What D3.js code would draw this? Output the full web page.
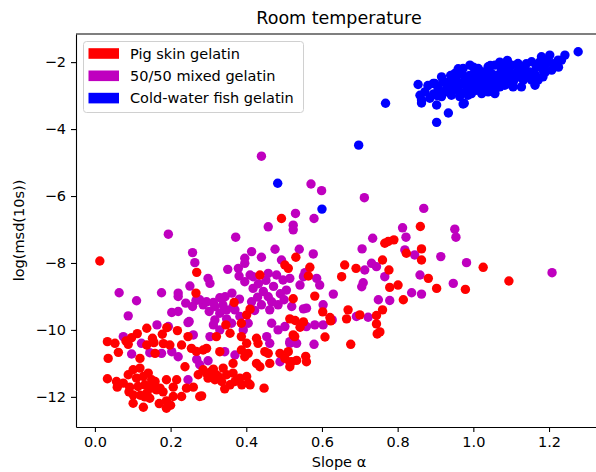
<!DOCTYPE html>
<html>
<head>
<meta charset="utf-8">
<script src="https://cdn.jsdelivr.net/npm/d3@7"></script>
<style>
  html, body { margin: 0; padding: 0; background: #fff; }
  svg { display: block; font-family: "DejaVu Sans", sans-serif; }
</style>
</head>
<body>
<svg id="chart" width="596" height="472"></svg>
<script>
// Slope α vs log(msd(10s)) for three gelatin types at room temperature
const pigSkin = [
  [0.013,-7.94],[0.269,-8.28],[0.267,-8.90],[0.493,-6.67],[0.531,-7.83],[0.502,-8.06],[0.511,-8.16],
  [0.436,-8.36],[0.368,-9.18],[0.524,-9.07],[0.401,-9.55],[0.410,-9.38],[0.860,-6.91],
  [0.766,-7.41],[0.775,-7.36],[0.790,-7.31],[0.863,-7.58],[0.823,-7.71],[0.863,-7.91],
  [0.568,-8.13],[0.760,-7.91],[0.660,-8.06],[0.690,-8.16],[0.652,-8.41],[0.777,-8.21],
  [0.881,-8.46],[0.903,-8.76],[0.979,-8.79],[1.026,-8.13],[1.094,-8.54],[0.779,-8.73],
  [0.801,-8.66],[0.815,-9.10],[0.581,-8.99],[0.564,-8.39],[0.602,-9.46],[0.621,-9.63],
  [0.623,-9.73],[0.669,-9.40],[0.665,-9.67],[0.700,-9.55],[0.760,-9.40],[0.744,-9.57],
  [0.744,-9.82],[0.746,-10.12],[0.753,-10.06],[0.676,-10.43],[0.608,-10.21],[0.557,-10.79],
  [0.533,-10.91],[0.515,-10.96],[0.524,-10.15],[0.551,-9.76],[0.529,-9.72],[0.515,-9.67],
  [0.542,-9.92],[0.346,-9.85],[0.387,-9.80],[0.357,-10.10],[0.321,-10.20],[0.387,-10.20],
  [0.401,-10.40],[0.427,-10.25],[0.431,-10.40],[0.528,-10.20],[0.286,-10.60],[0.295,-10.55],
  [0.330,-10.65],[0.387,-10.60],[0.405,-10.70],[0.396,-10.80],[0.449,-10.65],[0.458,-10.70],
  [0.489,-10.70],[0.511,-10.65],[0.502,-10.85],[0.462,-11.00],[0.436,-11.10],[0.427,-11.00],
  [0.520,-10.95],[0.515,-11.10],[0.559,-10.95],[0.365,-11.00],[0.339,-11.14],[0.313,-11.17],
  [0.286,-11.19],[0.295,-11.29],[0.321,-11.34],[0.348,-11.34],[0.365,-11.29],[0.383,-11.44],
  [0.401,-11.39],[0.405,-11.59],[0.388,-11.64],[0.370,-11.54],[0.357,-11.64],[0.335,-11.54],
  [0.317,-11.49],[0.299,-11.44],[0.343,-11.76],[0.447,-11.74],[0.410,-11.64],[0.282,-11.97],
  [0.033,-10.35],[0.053,-10.40],[0.062,-10.67],[0.035,-10.85],[0.033,-11.46],[0.059,-11.71],
  [0.082,-10.33],[0.097,-10.23],[0.112,-10.11],[0.088,-10.43],[0.119,-10.85],[0.137,-9.95],
  [0.137,-10.45],[0.159,-10.70],[0.178,-10.13],[0.190,-9.93],[0.181,-10.41],[0.152,-10.25],
  [0.156,-10.38],[0.198,-10.45],[0.218,-10.02],[0.229,-10.45],[0.246,-10.20],[0.255,-10.55],
  [0.268,-10.64],[0.238,-11.10],[0.101,-12.19],[0.128,-12.31],[0.189,-12.34],[0.273,-11.34],
  [0.308,-11.24],[0.326,-11.39],[0.189,-12.12],[0.088,-11.34],[0.101,-11.19],[0.110,-11.44],
  [0.119,-11.14],[0.128,-11.39],[0.141,-11.29],[0.150,-11.49],[0.132,-11.64],[0.114,-11.69],
  [0.092,-11.71],[0.101,-11.94],[0.137,-11.89],[0.150,-11.74],[0.159,-11.54],[0.163,-11.79],
  [0.145,-12.04],[0.172,-11.74],[0.189,-11.49],[0.207,-11.99],[0.207,-11.71],[0.216,-11.49],
  [0.229,-11.99],[0.242,-11.74],[0.260,-11.71],[0.277,-11.99],[0.075,-11.59],[0.057,-11.54],
  [0.180,-11.85],[0.154,-11.62],[0.132,-12.00],[0.090,-11.85],[0.120,-11.95],[0.170,-12.20],
  [0.200,-12.25]
];

const mixed = [
  [0.440,-4.81],[0.530,-6.52],[0.458,-6.92],[0.524,-6.87],[0.524,-7.01],[0.194,-7.14],
  [0.372,-7.23],[0.258,-7.69],[0.264,-7.99],[0.476,-7.59],[0.440,-7.83],[0.396,-7.86],
  [0.414,-7.66],[0.493,-7.91],[0.351,-8.19],[0.379,-8.16],[0.381,-8.39],[0.418,-8.41],
  [0.396,-8.56],[0.299,-8.46],[0.304,-8.61],[0.251,-8.69],[0.064,-8.89],[0.110,-9.13],
  [0.176,-8.89],[0.220,-8.90],[0.220,-9.00],[0.088,-9.58],[0.203,-9.48],[0.220,-9.45],
  [0.286,-9.25],[0.317,-9.30],[0.348,-9.40],[0.365,-9.30],[0.330,-9.50],[0.267,-9.12],
  [0.249,-9.75],[0.164,-9.85],[0.194,-9.90],[0.246,-9.78],[0.075,-10.20],[0.123,-10.40],
  [0.145,-10.68],[0.260,-10.15],[0.097,-10.72],[0.176,-10.70],[0.203,-10.65],[0.220,-10.80],
  [0.269,-10.88],[0.277,-11.04],[0.246,-11.49],[0.299,-10.92],[0.396,-8.01],[0.410,-8.36],
  [0.458,-8.31],[0.480,-8.36],[0.497,-8.51],[0.515,-8.46],[0.418,-8.76],[0.542,-8.66],
  [0.506,-8.81],[0.445,-8.85],[0.458,-9.01],[0.467,-9.16],[0.440,-9.25],[0.462,-9.40],
  [0.484,-9.25],[0.330,-9.04],[0.344,-9.01],[0.313,-9.18],[0.295,-9.16],[0.277,-9.10],
  [0.370,-9.40],[0.383,-9.60],[0.414,-9.16],[0.317,-9.70],[0.348,-9.67],[0.551,-9.37],
  [0.313,-9.85],[0.330,-10.00],[0.361,-9.80],[0.392,-10.00],[0.405,-9.80],[0.467,-9.80],
  [0.484,-10.00],[0.502,-9.90],[0.559,-9.90],[0.304,-10.20],[0.454,-10.20],[0.462,-10.40],
  [0.515,-10.40],[0.533,-10.40],[0.343,-10.65],[0.370,-10.75],[0.489,-10.95],[0.571,-5.64],
  [0.599,-5.84],[0.712,-6.05],[0.869,-6.37],[0.579,-6.67],[0.813,-6.95],[0.951,-6.99],
  [0.954,-7.23],[0.822,-7.23],[0.734,-7.26],[0.706,-7.58],[0.540,-7.59],[0.819,-7.61],
  [0.845,-7.76],[0.914,-7.81],[0.982,-7.99],[1.208,-8.29],[0.577,-7.73],[0.551,-8.41],
  [0.586,-8.46],[0.594,-8.66],[0.731,-8.01],[0.744,-8.11],[0.713,-8.21],[0.859,-8.36],
  [0.705,-8.71],[0.709,-8.59],[0.837,-8.89],[0.863,-8.93],[0.947,-8.61],[0.766,-8.41],
  [0.630,-8.93],[0.749,-9.10],[0.779,-9.12],[0.559,-9.35],[0.603,-9.25],[0.555,-8.29],
  [0.627,-9.70],[0.691,-9.60],[0.722,-9.62],[0.581,-9.85],[0.603,-9.85],[0.579,-10.43],
  [0.515,-10.35],[0.432,-8.62],[0.452,-8.52],[0.472,-8.70],[0.490,-8.92],[0.500,-9.10],
  [0.520,-9.30],[0.430,-9.02],[0.422,-9.42],[0.362,-8.90],[0.382,-9.08],[0.258,-9.30],
  [0.240,-9.20],[0.302,-9.45],[0.338,-9.25]
];

const fishGelatin = [
  [0.483,-5.62],[0.600,-6.39],[0.697,-4.48],[0.768,-3.23],[0.903,-3.80],[0.934,-3.52],
  [0.973,-3.25],[0.854,-2.67],[0.859,-2.99],[0.863,-3.22],[0.898,-2.64],[0.925,-2.89],
  [0.903,-3.28],[1.163,-2.69],[1.277,-1.69],[1.242,-1.79],[1.233,-1.94],[1.202,-1.79],
  [1.180,-1.84],[1.207,-2.24],[1.184,-2.44],[0.894,-2.64],[0.872,-2.89],[0.885,-3.08],
  [0.916,-3.03],[0.929,-2.84],[0.916,-2.44],[0.942,-2.54],[0.951,-2.34],[0.973,-2.19],
  [0.960,-2.74],[0.982,-2.84],[0.995,-2.94],[1.008,-2.84],[0.991,-2.59],[1.004,-2.34],
  [1.013,-2.19],[1.030,-2.44],[1.044,-2.64],[1.026,-2.74],[1.057,-2.84],[1.070,-2.74],
  [1.057,-2.09],[1.074,-2.24],[1.083,-2.44],[1.092,-2.64],[1.101,-2.09],[1.118,-2.04],
  [1.123,-2.34],[1.110,-2.49],[1.132,-2.54],[1.149,-2.29],[1.154,-1.99],[1.167,-2.14],
  [1.189,-2.09],[1.048,-2.34],[1.022,-2.59],[0.978,-2.49],[0.964,-3.03],[0.942,-2.99],
  [0.907,-2.79],[0.863,-3.13],[0.976,-3.23],[1.057,-2.94],[1.127,-2.74],[1.224,-1.94],
  [1.039,-2.14],[1.022,-2.29],[0.991,-2.09],[0.999,-2.69],[0.969,-2.64],[0.951,-2.59],
  [0.938,-2.69],[0.920,-2.59],[1.066,-2.54],[1.052,-2.49],[1.096,-2.29],[1.105,-2.74],
  [1.136,-2.19],[1.154,-2.54],[1.171,-2.54],[1.184,-2.24],[1.035,-2.79],[0.986,-2.99],
  [1.022,-2.94],[1.039,-2.89],[1.083,-2.69],
  [0.930,-2.75],[0.945,-2.85],[0.955,-2.45],[0.965,-2.90],[0.970,-2.35],[0.985,-2.70],
  [0.990,-2.40],[1.000,-2.80],[1.005,-2.55],[1.015,-2.65],[1.020,-2.45],[1.030,-2.30],
  [1.035,-2.60],[1.045,-2.50],[1.050,-2.75],[1.060,-2.40],[1.065,-2.65],[1.075,-2.55],
  [1.080,-2.35],[1.085,-2.15],[1.090,-2.50],[1.100,-2.40],[1.105,-2.60],[1.115,-2.30],
  [1.120,-2.15],[1.125,-2.45],[1.135,-2.35],[1.140,-2.05],[1.145,-2.45],[1.160,-2.30],
  [1.165,-2.40],[1.175,-2.00],[1.190,-2.30],[1.195,-1.95],[1.210,-2.05],[1.225,-2.15],
  [0.905,-3.00],[0.895,-2.95],[0.880,-2.70],[0.925,-2.60],[0.940,-2.40],[0.960,-2.20],
  [1.000,-2.15],[1.045,-2.10],[1.070,-2.00],[1.090,-1.95]
];

const xTicks = [0.0, 0.2, 0.4, 0.6, 0.8, 1.0, 1.2];
const yTicks = [-12, -10, -8, -6, -4, -2];
const seriesNames = ["Pig skin gelatin", "50/50 mixed gelatin", "Cold-water fish gelatin"];
const seriesColors = ["#ff0000", "#bf00bf", "#0000ff"];

const svg = d3.select("#chart");
const plotLeft = 76, plotRight = 602, plotTop = 34, plotBottom = 427;
const fs = 14.5;

const x = d3.scaleLinear().domain([-0.05, 1.34]).range([plotLeft, plotRight]);
const y = d3.scaleLinear().domain([-12.9, -1.16]).range([plotBottom, plotTop]);

// markers: mixed first, pig skin over it, fish on top
const layers = [
  { data: mixed, color: seriesColors[1] },
  { data: pigSkin, color: seriesColors[0] },
  { data: fishGelatin, color: seriesColors[2] }
];
const plot = svg.append("g");
layers.forEach(l => {
  plot.append("g").selectAll("circle").data(l.data).join("circle")
    .attr("cx", d => x(d[0])).attr("cy", d => y(d[1]))
    .attr("r", 4.7).attr("fill", l.color);
});

// axes
const xAxis = d3.axisBottom(x).tickValues(xTicks).tickFormat(d3.format(".1f"))
  .tickSize(5).tickPadding(5).tickSizeOuter(0);
const yAxis = d3.axisLeft(y).tickValues(yTicks).tickFormat(d3.format("d"))
  .tickSize(5).tickPadding(5).tickSizeOuter(0);

const gx = svg.append("g").attr("transform", `translate(0,${plotBottom})`).call(xAxis);
const gy = svg.append("g").attr("transform", `translate(${plotLeft},0)`).call(yAxis);
[gx, gy].forEach(g => {
  g.selectAll("text").attr("font-size", fs).attr("font-family", "DejaVu Sans").attr("fill", "#000");
  g.selectAll("line").attr("stroke", "#000").attr("stroke-width", 1.1);
  g.select(".domain").attr("stroke", "#000").attr("stroke-width", 1.1);
});

// top and right spines
svg.append("line").attr("x1", plotLeft).attr("x2", plotRight).attr("y1", plotTop).attr("y2", plotTop)
  .attr("stroke", "#000").attr("stroke-width", 1.1);
svg.append("line").attr("x1", plotRight).attr("x2", plotRight).attr("y1", plotTop).attr("y2", plotBottom)
  .attr("stroke", "#000").attr("stroke-width", 1.1);

// title and axis labels
svg.append("text").attr("x", (plotLeft + plotRight) / 2).attr("y", 24)
  .attr("text-anchor", "middle").attr("font-size", 17.5).text("Room temperature");
svg.append("text").attr("x", (plotLeft + plotRight) / 2).attr("y", 467)
  .attr("text-anchor", "middle").attr("font-size", fs).text("Slope α");
svg.append("text").attr("transform", `translate(24,${(plotTop + plotBottom) / 2}) rotate(-90)`)
  .attr("text-anchor", "middle").attr("font-size", fs).text("log(msd(10s))");

// legend
const lg = svg.append("g");
lg.append("rect").attr("x", 83.5).attr("y", 41.5).attr("width", 220).attr("height", 71)
  .attr("rx", 3).attr("fill", "#fff").attr("fill-opacity", 0.8)
  .attr("stroke", "#d0d0d0").attr("stroke-width", 1);
seriesNames.forEach((name, i) => {
  const cy = 53.5 + i * 22.3;
  lg.append("rect").attr("x", 88.5).attr("y", cy - 5.3).attr("width", 30.5).attr("height", 10.6)
    .attr("fill", seriesColors[i]);
  lg.append("text").attr("x", 130).attr("y", cy + 5.2).attr("font-size", fs).text(name);
});
</script>
</body>
</html>
